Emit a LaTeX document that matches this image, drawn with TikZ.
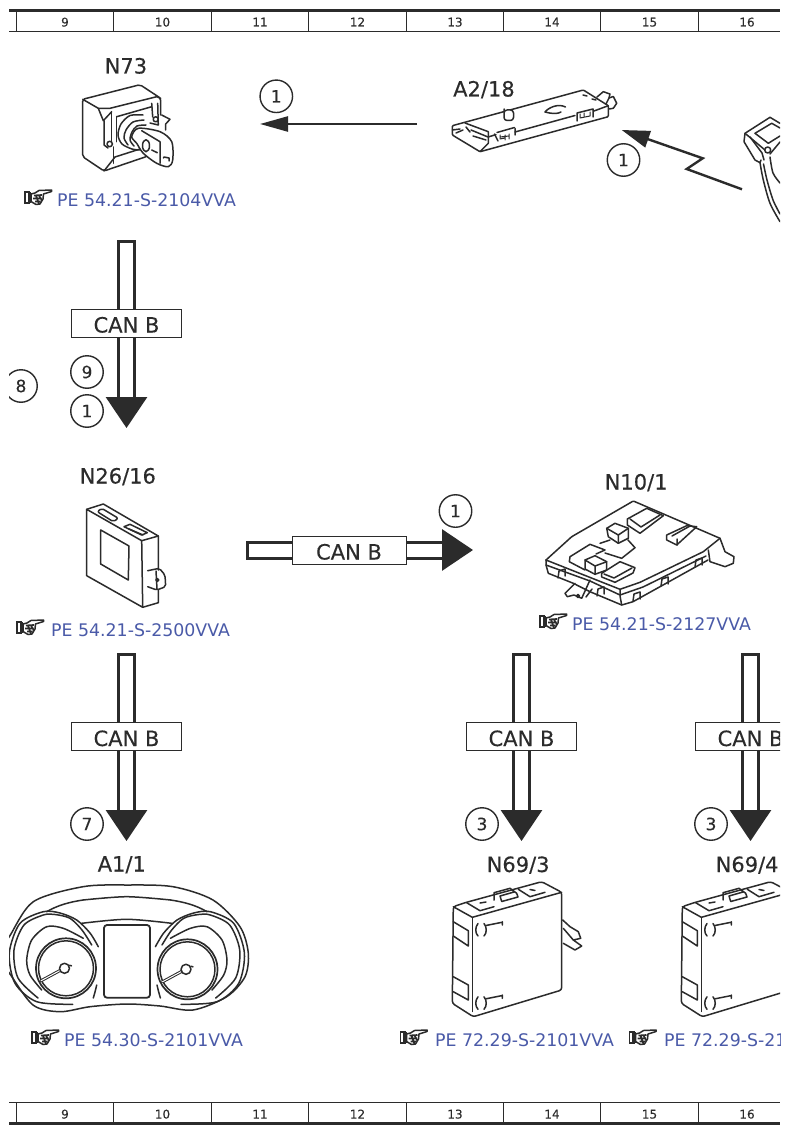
\documentclass[tikz,border=0pt]{standalone}
\usepackage{fontspec}
\setmainfont{DejaVu Sans}
\newfontfamily\heavyfont{DejaVu Sans}[FakeBold=0.25]
\usetikzlibrary{arrows.meta,positioning,calc}
\definecolor{inkdark}{HTML}{2B2B2B}
\definecolor{linkblue}{HTML}{4A5AA8}
\tikzset{
  devline/.style={draw=inkdark,line width=1.5pt,line join=round,line cap=round},
  finerule/.style={draw=inkdark,line width=0.9pt},
  headrule/.style={draw=inkdark,line width=3pt},
  canbus/.style={draw=inkdark,line width=3pt,double=white,double distance=13pt,
    {Bar[width=19pt,line width=3pt,length=0pt]}-{Triangle[width=41pt,length=31pt,color=inkdark]}},
  canbox/.style={rectangle,draw=inkdark,line width=0.8pt,fill=white,minimum width=110.5pt,
    minimum height=28pt,inner sep=0pt,text height=19pt,text depth=0pt,text=inkdark,
    font=\heavyfont\fontsize{21}{25}\selectfont},
  circlab/.style={circle,draw=inkdark,line width=1.4pt,fill=white,minimum size=32.5pt,inner sep=0pt,
    text=inkdark,font=\heavyfont\fontsize{17}{20}\selectfont},
  devlabel/.style={anchor=base west,inner sep=0pt,text=inkdark,font=\heavyfont\fontsize{21}{25}\selectfont},
  pelabel/.style={anchor=base west,inner sep=0pt,text=linkblue,font=\fontsize{17.35}{20}\selectfont},
  colnum/.style={anchor=base,inner sep=0pt,text=inkdark,font=\heavyfont\fontsize{12}{14}\selectfont},
  thinarrow/.style={draw=inkdark,line width=2.4pt,-{Triangle[width=15pt,length=28pt,color=inkdark]}},
  handicon/.pic={
    \draw[draw=inkdark,line width=1.6pt] (0.8,-5.5) rectangle (5.5,5.5);
    \fill[inkdark] (3.5,-5.5) rectangle (7,5.5);
    \draw[devline,fill=white] (7,-3.5) -- (11,-4.5) -- (15,-7) -- (27.5,-7.5) -- (27.5,-6)
      -- (19.5,-3.5) -- (19,1.5) -- (16,6.5) -- (12,7) -- (7,4) -- cycle;
    \draw[draw=inkdark,line width=1.7pt] (10,-2) -- (18,-2.5) (9,1) -- (17.5,1) (11,4) -- (16.5,4)
      (12,-2) -- (15,6.5) (15,-2) -- (18,3);
  },
  ecubox/.pic={
    % housing
    \draw[devline,rounded corners=2.5pt] (453.3,906.7) -- (465,902.7) -- (541.7,881.7) -- (561.7,892.3)
      -- (561.7,990) -- (473.3,1016.7) -- (452.3,1003.3) -- cycle;
    \draw[devline] (453.3,906.7) -- (472.3,917.3) -- (561.7,892.3);
    \draw[devline,line width=1pt] (472.3,917.3) -- (472.3,1011.7);
    % side windows
    \draw[devline] (453.3,921.7) -- (468.3,930.7) -- (468.3,946) -- (453.3,936);
    \draw[devline] (453.3,976.7) -- (468.3,985) -- (468.3,1000) -- (453.3,991.7);
    % connectors on top
    \draw[devline] (466.7,902.7) -- (480,910.7) -- (494,906.7);
    \draw[devline] (480,903) -- (486,902);
    \draw[devline] (494,900) -- (494,892.7) -- (510,888.3) -- (516.7,893.3) -- (518,897) -- (501.7,901.5) -- (500,896) -- (514,892);
    \draw[devline] (518.3,889.3) -- (530,896.7) -- (545,892.3);
    \draw[devline] (530,889.5) -- (535,890.5);
    % clips on the front
    \foreach \dy in {0,73.3} {
      \draw[devline] (478,923.5+\dy) .. controls (475,927+\dy) and (475,933+\dy) .. (478,936+\dy);
      \draw[devline] (484,923.5+\dy) .. controls (487,927+\dy) and (487,933+\dy) .. (484,936+\dy);
      \draw[devline] (486,925.5+\dy) -- (502,922.3+\dy) (502.3,921.7+\dy) -- (502.3,925+\dy);
    }
  },
  clusterpod/.pic={
    \draw[devline] plot[smooth] coordinates {(98.3,946.7) (90,933) (76.7,920) (60,913) (43.3,911.7) (20,923.3) (9.3,953) (15,983.3) (36.7,1001.7) (72.7,1004.3)};
    \draw[devline] plot[smooth] coordinates {(91.7,945) (82,930) (70,918.3) (55,914.5) (43.3,915) (24,925) (14,950) (18,978) (38,998)};
    \draw[devline] plot[smooth] coordinates {(83.3,938.3) (63.3,928.3) (46.7,926.7) (31.7,940) (26.7,960) (30,975) (41.7,990)};
    \draw[devline] plot[smooth] coordinates {(96.7,985) (95,992) (93.3,998)};
    \draw[devline] (46.7,911.7) .. controls (58,905) and (70,902) .. (83,900);
  },
}
\begin{document}
\begin{tikzpicture}[x=1pt,y=-1pt]
  \useasboundingbox (0,0) rectangle (789,1134);
  \fill[white] (0,0) rectangle (789,1134);
  \begin{scope}
  \clip (9,0) rectangle (780,1134);
  % column rulers
  \draw[headrule] (9,10.5) -- (780,10.5);
  \draw[finerule] (9,31) -- (780,31);
  \draw[finerule] (9,1102.5) -- (780,1102.5);
  \draw[headrule] (9,1123.5) -- (780,1123.5);
  \foreach \x in {16.5,113.5,211.5,308.5,406.5,503.5,600.5,698.5} {
    \draw[finerule] (\x,12) -- (\x,31);
    \draw[finerule] (\x,1102.5) -- (\x,1122);
  }
  \foreach \n/\x in {9/65,10/162.5,11/260,12/357.5,13/455,14/552,15/649.5,16/747} {
    \node[colnum] (top\n) at (\x,26.5) {\n};
    \node[colnum] (bot\n) at (\x,1118.5) {\n};
  }

  % N73 lock
  \draw[devline,rounded corners=2pt] (160.7,115) -- (160.7,98.3) -- (140,84.7) -- (82.7,99.3) -- (82.7,156.7) -- (104,171) -- (146,156.7);
  \draw[devline] (82.7,99.3) -- (98.3,108.3) -- (110,108.3) -- (156.7,96.7) -- (160.7,98.3);
  \draw[devline] (98.3,108.3) -- (103.3,120.7) -- (111.7,111.7);
  \draw[devline] (104,120.7) -- (104,145) -- (108,148);
  \draw[devline] (111.7,111.7) -- (111.7,141.7);
  \draw[devline] (109.7,144) circle (2.7);
  \draw[devline] (113.3,147) -- (113.3,163.3);
  \draw[devline] (104,171) -- (115,157) -- (140,149);
  \draw[devline] (116.7,116.7) -- (151.7,106.7);
  \draw[devline] (116.7,116.7) -- (116.7,141.7);
  \draw[devline] (151.7,103.3) -- (152.7,117);
  \draw[devline] (157.7,103.3) -- (158.3,125) -- (150,123);
  \draw[devline] (155.7,119.3) circle (2.5);
  \draw[devline] (161.7,115) -- (170,119.3) -- (165.7,124) -- (165.7,130);
  \draw[devline] plot[smooth] coordinates {(143,115) (130,115.5) (121,124) (118,135) (122,144) (132,149) (140,150)};
  \draw[devline] plot[smooth] coordinates {(144,120) (133,122) (126,130) (124,138) (128,145)};
  \draw[devline] plot[smooth] coordinates {(146,125) (137,126) (132,132) (130,140) (134,146)};
  \draw[devline,fill=white] plot[smooth cycle] coordinates {(138.3,128.3) (160,131.7) (171.7,141.7) (172.7,160) (168.3,166.7) (156.7,163.3) (143.3,153.3) (136.7,143.3) (131.7,136.7)};
  \draw[devline] (141.7,130.7) -- (160,141.7) -- (160,163.3);
  \draw[devline] (146,145.7) ellipse (3.5 and 6);
  \draw[devline] (151.7,150) -- (157.3,152.7);
  \draw[devline] (163.5,158) -- (164,157) -- (169,158) -- (169,161);

  % A2/18 module
  \draw[devline,rounded corners=1pt] (452.3,125.7) -- (583.3,90) -- (608.3,105.7) -- (608.3,116.7) -- (480,151.7) -- (452.3,135) -- cycle;
  \draw[devline] (465,123) -- (488.3,131.7) -- (488.3,143.3) -- (480,151.7);
  \draw[devline] (488.3,137) -- (496,134.5);
  \draw[devline] (494.5,134) -- (498,141) (515,128.5) -- (515,135);
  \draw[devline] (497,132.5) -- (514.5,127.5);
  \draw[devline] (515,132) -- (575,115.5);
  \draw[devline] (577,113) -- (577,121) (577,113) -- (593,109) (593,109) -- (593,117);
  \draw[devline] (594,111) -- (608.3,105.7);
  \draw[devline] (452.3,130) -- (460,129) (456,133) -- (463,130);
  \draw[devline] (466,127) -- (470,132) (471,130) -- (488,137);
  \draw[devline] (473,136) -- (486,140);
  \draw[devline,line width=1pt] (500,135) -- (500,139) -- (505,138) (505,135) -- (505,140) (509,134) -- (509,139) (500,137) -- (509,136);
  \draw[devline,line width=1pt] (580,114) -- (580,118) -- (590,116) -- (590,112) (584,116) -- (584,113);
  \draw[devline,fill=white,rounded corners=3pt] (504,112) -- (504,120.5) -- (513.5,120.5) -- (513.5,110) -- (504,110) -- cycle;
  \draw[devline] (565.5,107) .. controls (558,103) and (548,108) .. (545,112) (545,112) .. controls (552,114) and (558,114) .. (561,112);
  \draw[devline] (583,95) -- (587,96) (592,99) -- (596,100);
  \draw[devline] (597,97) -- (603.3,91.7) -- (610,94) -- (609,98);
  \draw[devline] (606,104) -- (609,98) -- (613.3,96.5) -- (616.7,103.3) -- (613.3,108.3) -- (609,109);

  % handset, cut off at the sheet edge
  \draw[devline] (780,123.3) -- (770,117.3) -- (745,133.3) -- (744,141.7) -- (755,160) -- (760,162.7) -- (761,160);
  \draw[devline] (755,133.3) -- (771.7,123.3) -- (780,128);
  \draw[devline] (755,133.3) -- (768.3,143.3) -- (780,136);
  \draw[devline] (745,133.3) -- (765,150);
  \draw[devline] (750,137) -- (762,153) -- (764,160);
  \draw[devline] (767.7,150) circle (3);
  \draw[devline] (770,154) -- (780,142);
  \draw[devline] plot[smooth] coordinates {(760,162.7) (763.3,180) (770,203.3) (780,221.7)};
  \draw[devline] plot[smooth] coordinates {(763.5,164) (767,180) (773,200) (780,214)};
  \draw[devline] plot[smooth] coordinates {(770,157) (773,173) (780,183)};

  % N26/16 unit
  \draw[devline] (86.7,509.3) -- (141.7,540.7) -- (142.7,607.3) -- (86.7,575.7) -- cycle;
  \draw[devline] (86.7,509.3) -- (103.3,504) -- (158.3,536) -- (141.7,540.7);
  \draw[devline] (158.3,536) -- (158.3,570) (158.3,590) -- (158.3,602.7) -- (142.7,607.3);
  \draw[devline] (100.7,530) -- (129,546) -- (128.3,580) -- (100.7,564) -- cycle;
  \draw[devline,rounded corners=2pt] (97.3,511.7) -- (101.7,508.3) -- (118.3,518.3) -- (113.3,521.7) -- cycle;
  \draw[devline] (124,526.7) -- (130,524.3) -- (147.3,532.7) -- (141.7,535) -- cycle;
  \draw[devline] (129,529) -- (143,535);
  \draw[devline,rounded corners=2pt] (147.7,570.7) -- (159.3,568.3) -- (165,575) -- (165.7,586.7) -- (156.7,590) -- (147.7,586.7);
  \draw[devline] (156,571) -- (157,589);
  \draw[devline] (157.3,580) circle (1.5);

  % N10/1 fuse unit
  \draw[devline,rounded corners=1pt] (546,560) -- (571.7,536.7) -- (633.3,501) -- (720,538.3);
  \draw[devline] (546,560) -- (620,589.3) -- (640,582.3) -- (703.3,551.7) -- (720,538.3);
  \draw[devline] (546,560) -- (546,565) -- (548.3,573.3) -- (573.3,583.3) -- (590,591.7) -- (621.7,605) -- (633,601.7) -- (708,560);
  \draw[devline] (620,589.3) -- (620,596) -- (621.7,605);
  \draw[devline] (546,565) -- (590,581) -- (620,595) -- (643,587) -- (706,556);
  \draw[devline] (708.3,550) -- (710,561.7) -- (725,566.7) -- (733.3,563.3) -- (734,556.7) -- (725,551.7) -- (720,538.3);
  \draw[devline] (575,583.3) -- (565,593.3) -- (567.3,596.7) -- (574,595) -- (581.7,598.3) -- (590,580);
  \draw[devline] (578,596) circle (1.5);
  \draw[devline] (586,597) -- (592,589);
  \foreach \cx/\cy in {561/574,600/592,636/597,664/582,698/563} {
    \draw[devline] (\cx-3,\cy+4) -- (\cx-2,\cy-3) -- (\cx+4,\cy-5) -- (\cx+4,\cy+2);
  }
  \draw[devline] (627.3,519) -- (646.7,508.3) -- (663.3,515.7) -- (640,533.3) -- (627.3,525) -- cycle;
  \draw[devline] (630,519) -- (641,527) -- (660,515);
  \draw[devline] (666.7,535) -- (686.7,525.7) -- (696.7,526.7) -- (676.7,545) -- (666.7,540) -- cycle;
  \draw[devline] (672,536) -- (690,526) (677,539) -- (677,545);
  \draw[devline] (600,543.3) -- (610,540) (628,540) -- (635,547.7) -- (621.7,558.3) -- (605,553);
  \draw[devline] (570,556.7) -- (590,544.3) -- (605,550) -- (596,554) (570,556.7) -- (569.3,561.7) -- (585,570);
  \draw[devline,fill=white] (606.7,528.3) -- (615,523.3) -- (628.3,528.3) -- (628.3,538.3) -- (618.3,543.3) -- (608.3,536.7) -- cycle;
  \draw[devline] (606.7,528.3) -- (618.3,535) -- (628.3,528.3) (618.3,535) -- (618.3,543.3);
  \draw[devline,fill=white] (585,560) -- (595,555.7) -- (606.7,561.7) -- (606.7,570) -- (595,574.3) -- (585,569) -- cycle;
  \draw[devline] (585,560) -- (595,566) -- (606.7,561.7) (595,566) -- (595,574.3);
  \draw[devline,fill=white] (601.7,573.3) -- (620,561.7) -- (635,567.7) -- (633,573) -- (615,582.3) -- (601.7,577) -- cycle;
  \draw[devline] (604,574) -- (614,578) -- (632,568);

  % A1/1 instrument cluster
  \draw[devline] plot[smooth] coordinates {(0,950) (9.3,936.7) (33.3,901.7) (83,886.7) (126.7,885) (173,886.7) (213,900) (240,926.7) (248.3,953) (245,976.7) (226.7,996.7) (193,1010) (160,1006) (126.7,1004) (90,1006.7) (60,1011.7) (33,1005) (9.3,973) (0,960)};
  \draw[devline] plot[smooth] coordinates {(83,900) (126.7,896.7) (170.7,900)};
  \draw[devline] plot[smooth] coordinates {(81.7,923.3) (126.7,919.3) (171.7,923.3)};
  \pic at (0,0) {clusterpod};
  \pic[xscale=-1] at (253.7,0) {clusterpod};
  \draw[devline,line width=1.8pt,rounded corners=3pt] (104,925) rectangle (150,997.7);
  \foreach \gx/\gy in {66/968.3,187.5/969.3} {
    \draw[devline,line width=1.7pt] (\gx,\gy) circle (30);
    \draw[devline] (\gx,\gy) circle (27.5);
    \draw[devline] (\gx-1,\gy) -- (\gx-2,\gy);
    \draw[devline,double=white,double distance=1pt,line width=1pt] (\gx-2,\gy) -- (\gx-25,\gy+12.5);
    \draw[devline,fill=white] (\gx-1.5,\gy) circle (5);
    \draw[devline] (\gx+3.5,\gy-3) -- (\gx+5.5,\gy-2.5);
  }

  % N69 control units
  \pic at (0,0) {ecubox};
  \pic at (229,0) {ecubox};
  \draw[devline] (562.7,920) -- (570,926.7) -- (578.3,931.7) -- (580.7,938.3) -- (573.3,940) -- (581.7,946) -- (575,950) -- (563.3,943.3);
  \draw[devline] (563.3,928.3) -- (573.3,940);

  % hands and manual references
  \foreach \hx/\hy/\tx/\ty/\ref in {24/197.5/57/206/54.21-S-2104VVA,16/627.5/51/636/54.21-S-2500VVA,539/621.5/572/630/54.21-S-2127VVA,31/1037.5/64/1046/54.30-S-2101VVA,399.5/1037.5/435/1046/72.29-S-2101VVA,628.5/1037.5/664/1046/72.29-S-2101VVA} {
    \pic at (\hx,\hy) {handicon};
    \node[pelabel] (pe\hx) at (\tx,\ty) {PE \ref};
  }

  % device names
  \node[devlabel] (n73) at (104.5,73.5) {N73};
  \node[devlabel] (a218) at (453,96.5) {A2/18};
  \node[devlabel] (n2616) at (79.5,483.5) {N26/16};
  \node[devlabel] (n101) at (604.5,489.5) {N10/1};
  \node[devlabel] (a11) at (97.5,871.5) {A1/1};
  \node[devlabel] (n693) at (486.5,872) {N69/3};
  \node[devlabel] (n694) at (715.5,872) {N69/4};

  % connector end points
  \coordinate (n73bus) at (126.5,240);
  \coordinate (n26in) at (126.5,428);
  \coordinate (n26out) at (126.5,653);
  \coordinate (a11in) at (126.5,841);
  \coordinate (n26side) at (246,550);
  \coordinate (n10in) at (473,550);
  \coordinate (n69aout) at (521.5,653);
  \coordinate (n69ain) at (521.5,841);
  \coordinate (n69bout) at (750.5,653);
  \coordinate (n69bin) at (750.5,841);
  \coordinate (a218left) at (417,124);
  \coordinate (n73right) at (260,124);
  \coordinate (remote) at (742,189.3);
  \coordinate (zigone) at (686.7,169);
  \coordinate (zigtwo) at (702.7,158.3);
  \coordinate (a218low) at (621.7,130);

  % CAN B buses
  \draw[canbus] (n73bus) -- (n26in);
  \draw[canbus] (n26out) -- (a11in);
  \draw[canbus] (n26side) -- (n10in);
  \draw[canbus] (n69aout) -- (n69ain);
  \draw[canbus] (n69bout) -- (n69bin);
  \node[canbox] (busa) at (126.5,323) {CAN B};
  \node[canbox] (busb) at (126.5,736.5) {CAN B};
  \node[canbox,minimum width=114pt] (busc) at (349,550) {CAN B};
  \node[canbox] (busd) at (521.5,736.5) {CAN B};
  \node[canbox] (buse) at (750.5,736.5) {CAN B};

  % key signal and radio link
  \draw[thinarrow] (a218left) -- (n73right);
  \draw[thinarrow,line join=miter,-{Triangle[width=17pt,length=28pt,color=inkdark]}] (remote) -- (zigone) -- (zigtwo) -- (a218low);

  % fault numbers
  \node[circlab] (c1) at (276.3,96.3) {1};
  \node[circlab] (c2) at (623.5,160) {1};
  \node[circlab] (c3) at (21,386) {8};
  \node[circlab] (c4) at (87,372) {9};
  \node[circlab] (c5) at (87,411) {1};
  \node[circlab] (c6) at (455.5,511) {1};
  \node[circlab] (c7) at (87,824) {7};
  \node[circlab] (c8) at (482,824) {3};
  \node[circlab] (c9) at (711,824) {3};
  \end{scope}
\end{tikzpicture}
\end{document}
